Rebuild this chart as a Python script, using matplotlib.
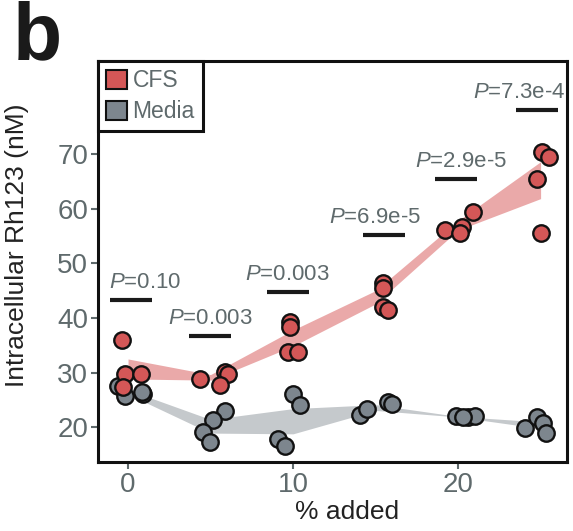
import numpy as np
import matplotlib
matplotlib.use("Agg")
import matplotlib.pyplot as plt
from matplotlib.patches import Patch

plt.rcParams['font.family'] = ['Liberation Sans', 'DejaVu Sans']
plt.rcParams['mathtext.fontset'] = 'custom'
plt.rcParams['mathtext.it'] = 'Liberation Sans:italic'
plt.rcParams['mathtext.rm'] = 'Liberation Sans'

# % added, one entry per group
doses = [0, 5, 10, 15, 20, 25]

# per-well x (jittered around the dose) and Rh123 (nM), 4 wells per group
cfs_x = [[-0.35, -0.18, 0.77, -0.28],
         [4.36, 5.88, 6.06, 5.58],
         [9.82, 9.82, 9.72, 10.32],
         [15.44, 15.47, 15.47, 15.78],
         [19.21, 20.22, 20.12, 20.93],
         [25.07, 25.53, 24.77, 25.01]]
cfs_y = [[35.9, 29.65, 29.7, 27.4],
         [28.9, 30.1, 29.7, 27.8],
         [39.3, 38.4, 33.8, 33.8],
         [46.3, 45.4, 42.0, 41.4],
         [56.1, 56.7, 55.5, 59.4],
         [70.4, 69.4, 65.4, 55.6]]

media_x = [[-0.59, -0.18, 0.93, 0.85],
           [5.88, 5.17, 4.56, 4.97],
           [10.02, 10.42, 9.11, 9.52],
           [14.06, 14.50, 15.78, 15.98],
           [19.88, 20.62, 21.03, 20.30],
           [24.06, 24.77, 25.13, 25.33]]
media_y = [[27.6, 25.8, 26.0, 26.4],
           [23.0, 21.3, 19.1, 17.3],
           [26.0, 24.0, 17.9, 16.5],
           [22.2, 23.4, 24.6, 24.2],
           [22.0, 21.9, 22.0, 21.8],
           [19.9, 21.8, 20.8, 19.0]]

# comparison labels above each dose
p_labels = ['0.10', '0.003', '0.003', '6.9e-5', '2.9e-5', '7.3e-4']
bar_x = [0.18, 4.97, 9.67, 15.5, 19.9, 24.8]
bar_y = [43.3, 36.7, 44.8, 55.2, 65.5, 78.1]
text_dx_pt = [10, 0, 0, -6, 3, -13]

RED = '#d45757'
GRAY = '#7d868e'
RED_BAND = '#eaa9a9'
GRAY_BAND = '#c5c9cc'
TXT_GRAY = '#5f6a6c'


def mean_sem(vals):
    a = np.array(vals)
    m = a.mean(axis=1)
    s = a.std(axis=1, ddof=1) / np.sqrt(a.shape[1])
    return m, s


fig = plt.figure(figsize=(5.73, 5.31), dpi=100)
ax = fig.add_axes([98 / 573, 69 / 531, 469 / 573, 401 / 531])

for ys, band in [(cfs_y, RED_BAND), (media_y, GRAY_BAND)]:
    m, s = mean_sem(ys)
    ax.fill_between(doses, m - s, m + s, color=band, lw=0, zorder=1)

for xs, ys, col in [(media_x, media_y, GRAY), (cfs_x, cfs_y, RED)]:
    ax.scatter(np.ravel(xs), np.ravel(ys), s=140, c=col, edgecolors='#111111',
               linewidths=1.7, zorder=3)

for lab, bx, by, dx in zip(p_labels, bar_x, bar_y, text_dx_pt):
    ax.plot([bx - 1.27, bx + 1.27], [by, by], color='#1a1a1a', lw=3,
            solid_capstyle='butt', zorder=2)
    ax.annotate(r'$\mathit{P}$=' + lab, (bx, by), xytext=(dx, 8.5),
                textcoords='offset points', ha='center', va='baseline',
                fontsize=16, color=TXT_GRAY)

ax.set_xlim(-1.82, 26.6)
ax.set_ylim(13.64, 87.0)
ax.set_xticks([0, 10, 20])
ax.set_yticks([20, 30, 40, 50, 60, 70])
ax.tick_params(direction='out', length=5, width=1.5, color=TXT_GRAY,
               labelcolor=TXT_GRAY, labelsize=20, pad=2)
for sp in ax.spines.values():
    sp.set_linewidth(2.2)
    sp.set_color('#111111')

ax.set_ylabel('Intracellular Rh123 (nM)', fontsize=19, color='#222222')
ax.yaxis.set_label_coords(-0.147, 0.54)
ax.set_xlabel('% added', fontsize=19, color='#222222')
ax.xaxis.set_label_coords(0.53, -0.095)

handles = [Patch(facecolor=RED, edgecolor='#111111', lw=1.5, label='CFS'),
           Patch(facecolor=GRAY, edgecolor='#111111', lw=1.5, label='Media')]
leg = ax.legend(handles=handles, loc='upper left', borderaxespad=0,
                fontsize=16.5, handlelength=0.9, handleheight=0.9,
                handletextpad=0.25, labelspacing=0.35, borderpad=0.35,
                fancybox=False, framealpha=1, edgecolor='#111111')
leg.get_frame().set_linewidth(2.2)
for t in leg.get_texts():
    t.set_color(TXT_GRAY)

fig.text(0.022, 1.0, 'b', fontsize=58, fontweight='bold', va='top',
         color='#1a1a1a')

fig.savefig('out.png', dpi=100)
